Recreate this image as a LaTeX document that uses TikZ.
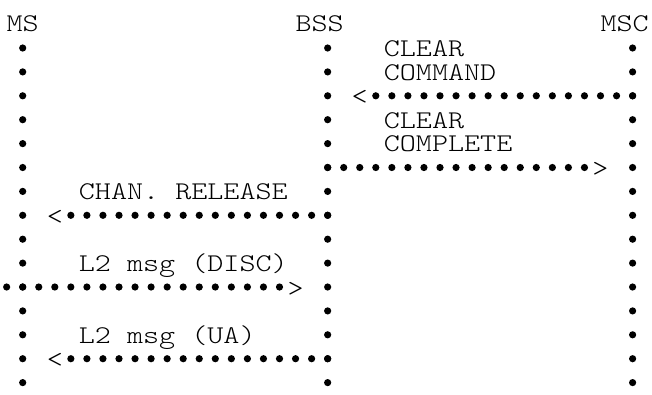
\documentclass[tikz,border=0pt]{standalone}
\usepackage{fontspec}
\setmonofont{lmmonolt10-regular.otf}[FakeStretch=1.2]
\usetikzlibrary{decorations.markings}
% column centre x and row centre y (row 0 = headers)
\newcommand\cx[1]{6.65+16.05*(#1)}
\newcommand\ry[1]{-48-23.9*((#1)-1)}
\begin{document}
\begin{tikzpicture}[x=1pt,y=1pt,
  txt/.style={font=\fontsize{25.5}{25.5}\selectfont\ttfamily\frenchspacing,
    inner sep=0pt, outer sep=0pt, anchor=base west},
  tip/.style={font=\fontsize{25.5}{25.5}\selectfont\ttfamily,
    inner sep=0pt, outer sep=0pt, anchor=center, yshift=-2pt},
  dotline/.style={postaction={decorate},
    decoration={markings, mark=between positions 0 and 1 step #1
      with {\fill (0,0) circle (3.6pt);}}},
  hdots/.style={dotline=16.05pt},
  vdots/.style={dotline=23.9pt}]
\useasboundingbox (0,0) rectangle (652,-394);
% headers
\node[txt] (ms)  at ({\cx{0.5}-8.0},-31.7) {MS};
\node[txt] (bss) at ({\cx{18.5}-8.0},-31.7) {BSS};
\node[txt] (msc) at ({\cx{37.5}-8.0},-31.7) {MSC};
% lifeline points
\foreach \r in {1,...,15}{
  \coordinate (ms\r)  at ({\cx{1}},{\ry{\r}});
  \coordinate (bss\r) at ({\cx{20}},{\ry{\r}});
  \coordinate (msc\r) at ({\cx{39}},{\ry{\r}});
}
% lifelines
\path[vdots] (ms1)  -- ([yshift=-0.3pt]ms15);
\path[vdots] (bss1) -- ([yshift=-0.3pt]bss15);
\path[vdots] (msc1) -- ([yshift=-0.3pt]msc15);
% message labels
\node[txt] (clearA)   at ({\cx{24}-8.0},{\ry{1}-8.3}) {CLEAR};
\node[txt] (command)  at ({\cx{24}-8.0},{\ry{2}-8.3}) {COMMAND};
\node[txt] (clearB)   at ({\cx{24}-8.0},{\ry{4}-8.3}) {CLEAR};
\node[txt] (complete) at ({\cx{24}-8.0},{\ry{5}-8.3}) {COMPLETE};
\node[txt] (chan)     at ({\cx{5}-8.0},{\ry{7}-8.3}) {CHAN.~RELEASE};
\node[txt] (disc)     at ({\cx{5}-8.0},{\ry{10}-8.3}) {L2~msg~(DISC)};
\node[txt] (ua)       at ({\cx{5}-8.0},{\ry{13}-8.3}) {L2~msg~(UA)};
% arrow heads
\node[tip] (hA) at ({\cx{22}},{\ry{3}}) {<};
\node[tip] (hB) at ({\cx{37}},{\ry{6}}) {>};
\node[tip] (hC) at ({\cx{3}},{\ry{8}}) {<};
\node[tip] (hD) at ({\cx{18}},{\ry{11}}) {>};
\node[tip] (hE) at ({\cx{3}},{\ry{14}}) {<};
\coordinate (tD) at ({\cx{0}},{\ry{11}});
% messages
\path[hdots] (msc3)  -- ([xshift=15.75pt]hA.center |- msc3);
\path[hdots] (bss6)  -- ([xshift=-15.75pt]hB.center |- bss6);
\path[hdots] (bss8)  -- ([xshift=15.75pt]hC.center |- bss8);
\path[hdots] (tD)    -- ([xshift=-15.75pt]hD.center |- tD);
\path[hdots] (bss14) -- ([xshift=15.75pt]hE.center |- bss14);
\end{tikzpicture}
\end{document}
